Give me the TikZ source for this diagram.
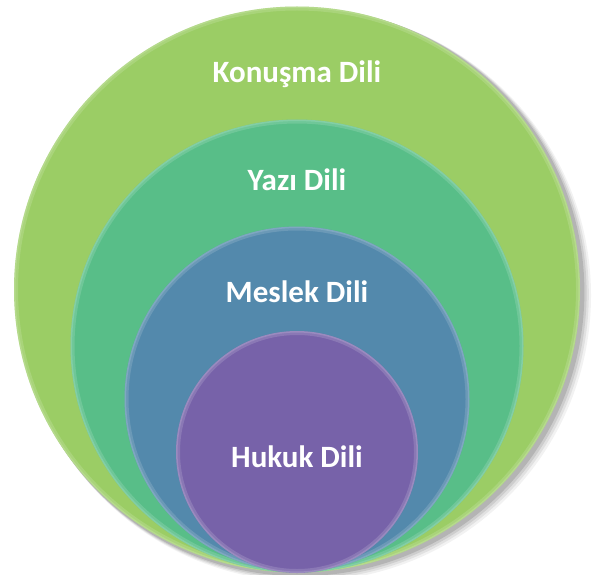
\documentclass[tikz,border=0pt]{standalone}
\usepackage{fontspec}
\setmainfont{Carlito}
\definecolor{cKon}{HTML}{9BCD65}
\definecolor{cYaz}{HTML}{58BE88}
\definecolor{cMes}{HTML}{5389AC}
\definecolor{cHuk}{HTML}{7762A9}
\tikzset{
  ring/.style={circle, inner sep=0pt, draw=none},
  rimA/.style={draw=white, draw opacity=0.14, line width=4pt},
  rimB/.style={draw=white, draw opacity=0.14, line width=1.5pt},
  lbl/.style={text=white, font=\fontsize{31}{31}\selectfont\bfseries, inner sep=0pt, anchor=base}
}
\begin{document}
\begin{tikzpicture}[x=1pt,y=1pt]
\useasboundingbox (0,0) rectangle (593,574);
% shadow of outer circle
\foreach \o/\a in {10/0.05,8/0.07,6/0.09,4/0.12}{
  \fill[black, opacity=\a] (297+\o*0.8,284.5-\o*0.6) circle (283+\o*0.3);
}
\node[ring, fill=cKon, minimum size=566pt] (kon) at (297,284.5) {};
\draw[rimA] (kon.center) circle (281);
\draw[rimB] (kon.center) circle (282.2);
\node[ring, fill=cYaz, minimum size=453pt] (yaz) at (297,228) {};
\draw[rimA] (yaz.center) circle (224.5);
\draw[rimB] (yaz.center) circle (225.7);
\node[ring, fill=cMes, minimum size=345pt] (mes) at (297,175) {};
\draw[rimA] (mes.center) circle (170.5);
\draw[rimB] (mes.center) circle (171.7);
\node[ring, fill=cHuk, minimum size=242pt] (huk) at (297,122) {};
\draw[rimA] (huk.center) circle (119);
\draw[rimB] (huk.center) circle (120.2);
\node[lbl] (tkon) at (297,574-83) {Konuşma Dili};
\node[lbl] (tyaz) at (297,574-190) {Yazı Dili};
\node[lbl] (tmes) at (297,574-302) {Meslek Dili};
\node[lbl] (thuk) at (297,574-467) {Hukuk Dili};
\end{tikzpicture}
\end{document}
